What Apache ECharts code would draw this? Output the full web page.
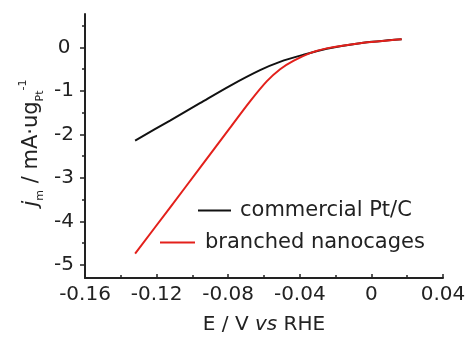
<!DOCTYPE html>
<html>
<head>
<meta charset="utf-8">
<script src="https://cdn.jsdelivr.net/npm/echarts@6/dist/echarts.min.js"></script>
<style>html,body{margin:0;padding:0;background:#fff}#c{width:469px;height:340px}</style>
</head>
<body>
<div id="c"></div>
<script>
// ---- data ----
const seriesNames = ['commercial Pt/C', 'branched nanocages'];
const ptcX = [-0.132, -0.1125, -0.0958, -0.079, -0.0622, -0.0511, -0.0382, -0.025, -0.0064, 0.0169];
const ptcY = [-2.14, -1.68, -1.28, -0.88, -0.52, -0.33, -0.17, -0.03, 0.10, 0.19];
const cageX = [-0.132, -0.1125, -0.0958, -0.079, -0.0678, -0.0585, -0.051, -0.0436, -0.0343, -0.025, -0.0064, 0.0169];
const cageY = [-4.74, -3.68, -2.77, -1.85, -1.24, -0.78, -0.50, -0.31, -0.13, -0.02, 0.10, 0.19];
const xTicks = [-0.16, -0.12, -0.08, -0.04, 0, 0.04];
const xMinorTicks = [-0.14, -0.10, -0.06, -0.02, 0.02];
const yTicks = [0, -1, -2, -3, -4, -5];
const yMinorTicks = [0.5, -0.5, -1.5, -2.5, -3.5, -4.5];
const xRange = [-0.16, 0.04];
const yRange = [-5.3, 0.77];

const FONT = 'DejaVu Sans';
const TXT = '#222';
const AX = '#222';
const zip = (xs, ys) => xs.map((x, i) => [x, ys[i]]);
const fmtX = v => { const r = Math.round(v * 100) / 100; return r === 0 ? '0' : String(r); };

const chart = echarts.init(document.getElementById('c'), null, {renderer: 'canvas'});
chart.setOption({
  animation: false,
  backgroundColor: '#fff',
  grid: {left: 85, right: 26, top: 14, bottom: 57, containLabel: false},
  xAxis: [
    {
      type: 'value', min: xRange[0], max: xRange[1], position: 'bottom',
      axisLine: {show: true, onZero: false, lineStyle: {color: AX, width: 2}},
      axisTick: {show: true, inside: true, length: 4, customValues: xTicks, lineStyle: {color: AX, width: 1.5}},
      axisLabel: {customValues: xTicks, formatter: fmtX, margin: 7, fontSize: 20, fontFamily: FONT, color: TXT},
      splitLine: {show: false},
      name: '{n|E / V }{i|vs}{n| RHE}',
      nameLocation: 'middle', nameGap: 37,
      nameTextStyle: {
        rich: {
          n: {fontSize: 20, fontFamily: FONT, color: TXT},
          i: {fontSize: 20, fontFamily: FONT, fontStyle: 'italic', color: TXT}
        }
      }
    },
    {
      type: 'value', min: xRange[0], max: xRange[1], position: 'bottom',
      axisLine: {show: false, onZero: false},
      axisTick: {show: true, inside: true, length: 3, customValues: xMinorTicks, lineStyle: {color: AX, width: 1.5}},
      axisLabel: {show: false},
      splitLine: {show: false}
    }
  ],
  yAxis: [
    {
      type: 'value', min: yRange[0], max: yRange[1], position: 'left',
      axisLine: {show: true, onZero: false, lineStyle: {color: AX, width: 2}},
      axisTick: {show: true, inside: false, length: 5, customValues: yTicks, lineStyle: {color: AX, width: 1.5}},
      axisLabel: {customValues: yTicks, formatter: v => String(Math.round(v)), align: 'center', margin: 21, fontSize: 20, fontFamily: FONT, color: TXT},
      splitLine: {show: false}
    },
    {
      type: 'value', min: yRange[0], max: yRange[1], position: 'left',
      axisLine: {show: false, onZero: false},
      axisTick: {show: true, inside: false, length: 3, customValues: yMinorTicks, lineStyle: {color: AX, width: 1.5}},
      axisLabel: {show: false},
      splitLine: {show: false}
    }
  ],
  legend: [
    {
      data: [seriesNames[0]], left: 198, top: 200, padding: 0,
      icon: 'rect', itemWidth: 33, itemHeight: 2,
      textStyle: {fontSize: 21, fontFamily: FONT, color: TXT, padding: [0, 0, 0, 4]}
    },
    {
      data: [seriesNames[1]], left: 160, top: 232, padding: 0,
      icon: 'rect', itemWidth: 35, itemHeight: 2,
      textStyle: {fontSize: 21, fontFamily: FONT, color: TXT, padding: [0, 0, 0, 5]}
    }
  ],
  graphic: [
    {
      type: 'text', x: 32, y: 143, rotation: Math.PI / 2,
      style: {
        text: '{i|j}{s|m}{n| / mA·ug}{s|Pt}{p|-1}',
        align: 'center', verticalAlign: 'middle',
        rich: {
          n: {fontSize: 21, fontFamily: FONT, fill: TXT, color: TXT, lineHeight: 28},
          i: {fontSize: 21, fontFamily: FONT, fontStyle: 'italic', fill: TXT, color: TXT, lineHeight: 28},
          s: {fontSize: 11, fontFamily: FONT, fill: TXT, color: TXT, lineHeight: 12, verticalAlign: 'bottom'},
          p: {fontSize: 11, fontFamily: FONT, fill: TXT, color: TXT, lineHeight: 12, verticalAlign: 'top'}
        }
      }
    }
  ],
  series: [
    {
      name: seriesNames[0], type: 'line', xAxisIndex: 0, yAxisIndex: 0,
      data: zip(ptcX, ptcY), showSymbol: false, symbol: 'none', smooth: 0.3,
      color: '#111', lineStyle: {color: '#111', width: 2}
    },
    {
      name: seriesNames[1], type: 'line', xAxisIndex: 0, yAxisIndex: 0,
      data: zip(cageX, cageY), showSymbol: false, symbol: 'none', smooth: 0.3,
      color: '#e3201b', lineStyle: {color: '#e3201b', width: 2}
    }
  ]
});
</script>
</body>
</html>
